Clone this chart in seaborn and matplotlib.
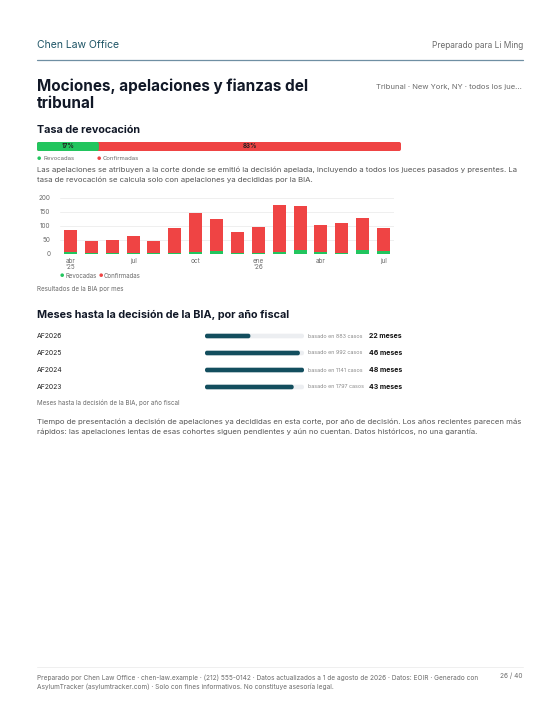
import numpy as np
import pandas as pd
import seaborn as sns
import matplotlib.pyplot as plt
import matplotlib.transforms as mtransforms
from matplotlib.patches import FancyBboxPatch

# data
meses = ["abr '25", "may", "jun", "jul", "ago", "sep", "oct", "nov", "dic",
         "ene '26", "feb", "mar", "abr", "may2", "jun2", "jul2"]
revocadas = [8, 3, 3, 4, 2, 3, 7, 9, 3, 2, 7, 16, 7, 2, 13, 11]
confirmadas = [77, 45, 47, 59, 43, 89, 139, 115, 75, 96, 169, 157, 97, 110, 114, 83]
tick_pos = [0, 3, 6, 9, 12, 15]
tick_lbl = ["abr\n'25", "jul", "oct", "ene\n'26", "abr", "jul"]

tasa_labels = ["Revocadas", "Confirmadas"]
tasa_pct = [17, 83]

af_labels = ["AF2026", "AF2025", "AF2024", "AF2023"]
af_meses = [22, 46, 48, 43]
af_casos = [883, 992, 1141, 1797]

GREEN = "#22c55e"
RED = "#ef4444"
TEAL = "#134e5e"
GRAY = "#6b6b6b"
DARK = "#111827"

sns.set_style("white")
plt.rcParams['font.family'] = ['Inter', 'DejaVu Sans']

W, H = 560, 725
fig = plt.figure(figsize=(W / 100, H / 100), dpi=100)


def fx(x):
    return x / W


def fy(y):
    return 1 - y / H


def rect(x0, y0, x1, y1):
    return [fx(x0), fy(y1), fx(x1 - x0), (y1 - y0) / H]


def round_bars(ax, r, aspect):
    # swap seaborn's rectangles for rounded ones of the same size
    for p in list(ax.patches):
        x, y = p.get_x(), p.get_y()
        w, h = p.get_width(), p.get_height()
        fb = FancyBboxPatch((x, y), w, h, boxstyle=f"round,pad=0,rounding_size={r}",
                            mutation_aspect=aspect, fc=p.get_facecolor(), ec="none",
                            zorder=p.get_zorder())
        p.remove()
        ax.add_patch(fb)


# header
fig.text(fx(37), fy(45), "Chen Law Office", fontsize=7.5, color="#1f5566", va="center")
fig.text(fx(523), fy(45), "Preparado para Li Ming", fontsize=6, color=GRAY, va="center", ha="right")
fig.add_artist(plt.Line2D([fx(37), fx(523)], [fy(60), fy(60)], color="#6f8fa3", lw=0.9))

fig.text(fx(37), fy(95), "Mociones, apelaciones y fianzas del\ntribunal", fontsize=11,
         fontweight="bold", color=DARK, va="center", linespacing=1.15)
fig.text(fx(522), fy(87), "Tribunal · New York, NY · todos los jue...", fontsize=5.5,
         color=GRAY, va="center", ha="right")

# tasa de revocacion
fig.text(fx(37), fy(130), "Tasa de revocación", fontsize=7.8, fontweight="bold", color=DARK, va="center")
ax0 = fig.add_axes(rect(37, 142, 401, 151))
tasa = pd.DataFrame({"grupo": tasa_labels, "pct": tasa_pct})
tasa["left"] = tasa["pct"].cumsum() - tasa["pct"]
sns.barplot(x=[100], y=[0], color=RED, orient="h", width=1, saturation=1, linewidth=0, ax=ax0)
sns.barplot(x=[tasa_pct[0]], y=[0], color=GREEN, orient="h", width=1, saturation=1, linewidth=0, ax=ax0)
ax0.set_xlim(0, 100)
ax0.set_ylim(0.5, -0.5)
round_bars(ax0, 0.5, 0.45)
for _, r in tasa.iterrows():
    ax0.text(r["left"] + r["pct"] / 2, 0, f"{r['pct']}%", ha="center", va="center",
             fontsize=4.5, fontweight="bold", color="#222")
ax0.axis("off")

fig.text(fx(37), fy(159), "●", fontsize=3.5, color=GREEN, va="center")
fig.text(fx(43), fy(159), "Revocadas", fontsize=4.3, color=GRAY, va="center")
fig.text(fx(97), fy(159), "●", fontsize=3.5, color=RED, va="center")
fig.text(fx(103), fy(159), "Confirmadas", fontsize=4.3, color=GRAY, va="center")

fig.text(fx(37), fy(175),
         "Las apelaciones se atribuyen a la corte donde se emitió la decisión apelada, incluyendo a todos los jueces pasados y presentes. La\n"
         "tasa de revocación se calcula solo con apelaciones ya decididas por la BIA.",
         fontsize=5.6, color="#555", va="center", linespacing=1.65)

# resultados por mes
ax1 = fig.add_axes(rect(60, 198, 394, 254))
df = pd.DataFrame({"mes": meses, "rev": revocadas, "conf": confirmadas})
df["total"] = df["rev"] + df["conf"]
sns.barplot(data=df, x="mes", y="total", color=RED, width=0.62, saturation=1, linewidth=0,
            ax=ax1, zorder=2)
sns.barplot(data=df, x="mes", y="rev", color=GREEN, width=0.62, saturation=1, linewidth=0,
            ax=ax1, zorder=3)
ax1.set_ylim(0, 200)
ax1.set_xlim(-0.5, 15.5)
ax1.set_yticks([0, 50, 100, 150, 200])
ax1.set_xticks(tick_pos)
ax1.set_xticklabels(tick_lbl)
ax1.tick_params(axis="both", labelsize=4.6, labelcolor=GRAY, length=0)
ax1.tick_params(axis="y", pad=7)
ax1.tick_params(axis="x", pad=3)
ax1.grid(axis="y", color="#ececec", lw=0.6, zorder=0)
ax1.set_axisbelow(True)
ax1.set(xlabel="", ylabel="")
sns.despine(ax=ax1, left=True, bottom=True)
for lbl in ax1.get_xticklabels():
    lbl.set_linespacing(0.95)

fig.text(fx(60), fy(276), "●", fontsize=3.5, color=GREEN, va="center")
fig.text(fx(65), fy(276), "Revocadas", fontsize=4.4, color=GRAY, va="center")
fig.text(fx(99), fy(276), "●", fontsize=3.5, color=RED, va="center")
fig.text(fx(104), fy(276), "Confirmadas", fontsize=4.4, color=GRAY, va="center")
fig.text(fx(37), fy(289), "Resultados de la BIA por mes", fontsize=4.5, color=GRAY, va="center")

# meses hasta la decision
fig.text(fx(37), fy(315), "Meses hasta la decisión de la BIA, por año fiscal", fontsize=7.8,
         fontweight="bold", color=DARK, va="center")
ax2 = fig.add_axes(rect(205, 327.5, 304, 395.5))
af = pd.DataFrame({"af": af_labels, "meses": af_meses, "casos": af_casos})
sns.barplot(x=[max(af_meses)] * len(af), y=af["af"], color="#eceef1", orient="h", width=0.27,
            saturation=1, linewidth=0, ax=ax2)
sns.barplot(data=af, x="meses", y="af", color=TEAL, orient="h", width=0.27, saturation=1,
            linewidth=0, ax=ax2)
ax2.set_xlim(0, max(af_meses))
ax2.set_ylim(3.5, -0.5)
round_bars(ax2, 1.0, 0.12)
ax2.axis("off")
tr = mtransforms.blended_transform_factory(fig.transFigure, ax2.transData)
for i, r in af.iterrows():
    ax2.text(fx(37), i, r["af"], transform=tr, fontsize=4.9, color="#222", va="center")
    ax2.text(fx(308), i, f"basado en {r['casos']} casos", transform=tr, fontsize=3.9,
             color="#8a8a8a", va="center")
    ax2.text(fx(402), i, f"{r['meses']} meses", transform=tr, fontsize=5.0,
             fontweight="bold", color="#111", va="center", ha="right")

fig.text(fx(37), fy(403), "Meses hasta la decisión de la BIA, por año fiscal", fontsize=4.5,
         color=GRAY, va="center")
fig.text(fx(37), fy(426.5),
         "Tiempo de presentación a decisión de apelaciones ya decididas en esta corte, por año de decisión. Los años recientes parecen más\n"
         "rápidos: las apelaciones lentas de esas cohortes siguen pendientes y aún no cuentan. Datos históricos, no una garantía.",
         fontsize=5.6, color="#555", va="center", linespacing=1.65)

# footer
fig.add_artist(plt.Line2D([fx(37), fx(523)], [fy(667), fy(667)], color="#ececec", lw=0.6))
fig.text(fx(37), fy(682),
         "Preparado por Chen Law Office · chen-law.example · (212) 555-0142 · Datos actualizados a 1 de agosto de 2026 · Datos: EOIR · Generado con\n"
         "AsylumTracker (asylumtracker.com) · Solo con fines informativos. No constituye asesoría legal.",
         fontsize=4.7, color=GRAY, va="center", linespacing=1.45)
fig.text(fx(523), fy(676), "26 / 40", fontsize=4.7, color=GRAY, va="center", ha="right")

fig.savefig("out.png", dpi=100, facecolor="white")
